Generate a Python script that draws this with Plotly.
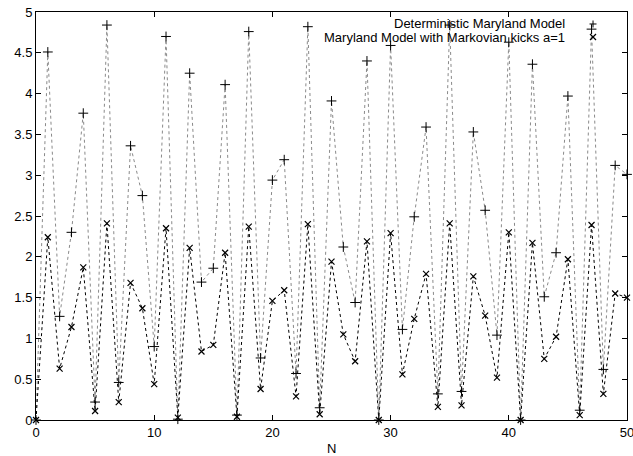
import plotly.graph_objects as go

N = list(range(51))

deterministic = [
    0.00, 4.51, 1.27, 2.30, 3.76, 0.22, 4.84, 0.46, 3.36, 2.75,
    0.90, 4.70, 0.01, 4.25, 1.69, 1.86, 4.11, 0.06, 4.76, 0.76,
    2.94, 3.19, 0.57, 4.82, 0.15, 3.91, 2.12, 1.44, 4.40, 0.00,
    4.59, 1.11, 2.49, 3.59, 0.32, 4.84, 0.35, 3.53, 2.57, 1.04,
    4.63, 0.00, 4.36, 1.51, 2.05, 3.97, 0.12, 4.79, 0.62, 3.12,
    3.01,
]

markovian = [
    0.00, 2.24, 0.63, 1.14, 1.87, 0.11, 2.41, 0.22, 1.68, 1.37,
    0.44, 2.35, 0.03, 2.11, 0.84, 0.92, 2.05, 0.04, 2.37, 0.38,
    1.46, 1.59, 0.29, 2.40, 0.07, 1.94, 1.05, 0.72, 2.19, 0.00,
    2.29, 0.56, 1.24, 1.79, 0.16, 2.41, 0.18, 1.76, 1.28, 0.52,
    2.30, 0.00, 2.17, 0.75, 1.02, 1.97, 0.06, 2.39, 0.32, 1.55,
    1.50,
]

series_names = ["Deterministic Maryland Model", "Maryland Model with Markovian kicks a=1"]
x_ticks = [0, 10, 20, 30, 40, 50]
y_ticks = [0, 0.5, 1, 1.5, 2, 2.5, 3, 3.5, 4, 4.5, 5]

FONT = "Liberation Sans, Arial, Helvetica, sans-serif"

fig = go.Figure()
fig.add_trace(go.Scatter(
    x=N, y=deterministic, mode="lines+markers", name=series_names[0],
    line=dict(color="#8a8a8a", width=1, dash="dot"),
    marker=dict(symbol="cross-thin", size=7, color="black",
                line=dict(color="black", width=1)),
    cliponaxis=False,
))
fig.add_trace(go.Scatter(
    x=N, y=markovian, mode="lines+markers", name=series_names[1],
    line=dict(color="black", width=1, dash="dot"),
    marker=dict(symbol="x-thin", size=6, color="black",
                line=dict(color="black", width=1.2)),
    cliponaxis=False,
))

axis_common = dict(
    showline=True, linecolor="black", linewidth=1, mirror="ticks",
    ticks="inside", ticklen=5, tickcolor="black", tickwidth=1,
    showgrid=False, zeroline=False, ticklabeloverflow="allow",
    tickfont=dict(family=FONT, size=13, color="black"),
)

fig.update_layout(
    width=633, height=456,
    margin=dict(l=36, r=6, t=12, b=36, autoexpand=False),
    paper_bgcolor="white", plot_bgcolor="white",
    showlegend=False,
    font=dict(family=FONT, size=13, color="black"),
    xaxis=dict(range=[0, 50], tickvals=x_ticks, ticktext=[str(v) for v in x_ticks],
               automargin=False, **axis_common),
    yaxis=dict(range=[0, 5], tickvals=y_ticks, ticktext=[("%g" % v) for v in y_ticks],
               automargin=False, **axis_common),
)

# x-axis title
fig.add_annotation(text="N", xref="paper", yref="paper", x=0.5, y=0,
                   yshift=-28, showarrow=False, xanchor="center", yanchor="middle",
                   font=dict(family=FONT, size=13, color="black"))

# key (text right-aligned, sample symbol to the right)
key_y = [0.9706, 0.9387]
for name, yy in zip(series_names, key_y):
    fig.add_annotation(text=name, xref="paper", yref="paper", x=0.8985, y=yy,
                       showarrow=False, xanchor="right", yanchor="middle",
                       font=dict(family=FONT, size=13, color="black"))

kx = 0.9425
dx = 3.5 / 591
dy = 3.5 / 408
# plus sample
fig.add_shape(type="line", xref="paper", yref="paper", x0=kx - dx, x1=kx + dx,
              y0=key_y[0], y1=key_y[0], line=dict(color="black", width=1))
fig.add_shape(type="line", xref="paper", yref="paper", x0=kx, x1=kx,
              y0=key_y[0] - dy, y1=key_y[0] + dy, line=dict(color="black", width=1))
# x sample
d2x = 3 / 591
d2y = 3 / 408
fig.add_shape(type="line", xref="paper", yref="paper", x0=kx - d2x, x1=kx + d2x,
              y0=key_y[1] - d2y, y1=key_y[1] + d2y, line=dict(color="black", width=1.2))
fig.add_shape(type="line", xref="paper", yref="paper", x0=kx - d2x, x1=kx + d2x,
              y0=key_y[1] + d2y, y1=key_y[1] - d2y, line=dict(color="black", width=1.2))

fig.write_html(
    "out.html",
    config={"displayModeBar": False},
    post_script="document.body.style.margin='0';document.body.style.padding='0';document.body.style.overflow='hidden';",
)
